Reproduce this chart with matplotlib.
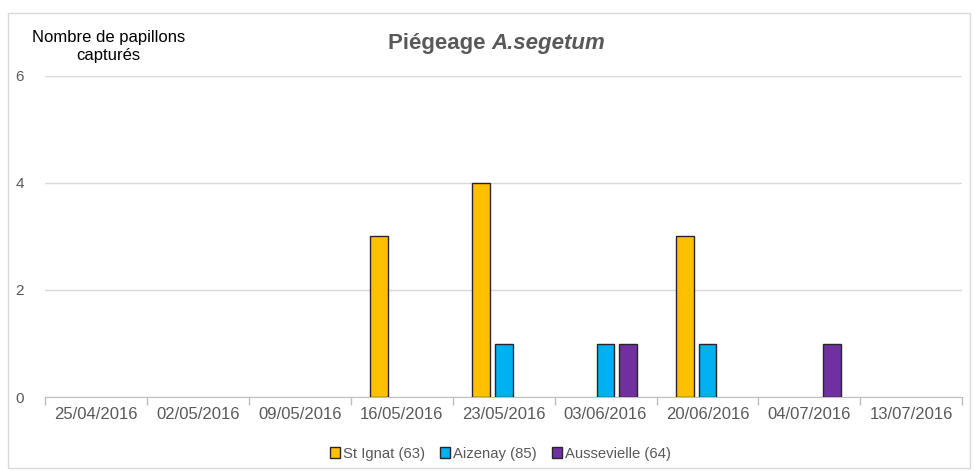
import numpy as np
import matplotlib
matplotlib.use("Agg")
import matplotlib.pyplot as plt
from matplotlib.patches import Rectangle

plt.rcParams['font.family'] = ['Liberation Sans', 'DejaVu Sans']

dates = ["25/04/2016", "02/05/2016", "09/05/2016", "16/05/2016", "23/05/2016",
         "03/06/2016", "20/06/2016", "04/07/2016", "13/07/2016"]
st_ignat = [0, 0, 0, 3, 4, 0, 3, 0, 0]
aizenay = [0, 0, 0, 0, 1, 1, 1, 0, 0]
aussevielle = [0, 0, 0, 0, 0, 1, 0, 1, 0]

series = [("St Ignat (63)", st_ignat, "#FFC000"),
          ("Aizenay (85)", aizenay, "#00B0F0"),
          ("Aussevielle (64)", aussevielle, "#7030A0")]

grey = "#595959"

fig = plt.figure(figsize=(9.75, 4.71), dpi=100)
ax = fig.add_axes([0.046, 0.157, 0.941, 0.682])

x = np.arange(len(dates))
step = 0.22
width = 0.175
for i, (name, vals, col) in enumerate(series):
  # les valeurs nulles ne sont pas dessinées (sinon un trait de bordure)
  v = np.array(vals, dtype=float)
  v[v == 0] = np.nan
  ax.bar(x + (i - 1) * step, v, width, color=col, edgecolor="#262626",
         linewidth=1.0, label=name, zorder=3)

ax.set_xlim(-0.5, len(dates) - 0.5)
ax.set_ylim(0, 6)
ax.set_yticks([0, 2, 4, 6])
ax.yaxis.grid(True, color="#D9D9D9", linewidth=1.0, zorder=0)
ax.tick_params(axis="y", length=0, labelsize=11, labelcolor=grey, pad=15)

ax.set_xticks(x)
ax.set_xticklabels(dates)
ax.tick_params(axis="x", which="major", length=0, labelsize=12,
               labelcolor=grey, pad=7)
ax.set_xticks(np.arange(-0.5, len(dates)), minor=True)
ax.tick_params(axis="x", which="minor", length=6, color="#BFBFBF", width=1)

for s in ["top", "right", "left"]:
  ax.spines[s].set_visible(False)
ax.spines["bottom"].set_color("#BFBFBF")

# titre en deux morceaux (normal + italique)
t1 = fig.text(0.398, 0.908, "Piégeage ", fontsize=16, fontweight="bold",
              color=grey, va="center", ha="left")
fig.canvas.draw()
bb = t1.get_window_extent()
fig.text(bb.x1 / fig.bbox.width, 0.908, "A.segetum", fontsize=16,
         fontweight="bold", fontstyle="italic", color=grey,
         va="center", ha="left")

fig.text(0.111, 0.901, "Nombre de papillons\ncapturés", fontsize=12,
         color="black", ha="center", va="center", linespacing=1.25)

leg = fig.legend(loc="center", bbox_to_anchor=(0.513, 0.037), ncol=3,
                 frameon=False, fontsize=10.7, handlelength=0.7,
                 handleheight=0.7, handletextpad=0.2, columnspacing=1.0)
for txt in leg.get_texts():
  txt.set_color(grey)

# cadre du graphique
fig.patches.append(Rectangle((0.008, 0.006), 0.987, 0.966,
                             transform=fig.transFigure, fill=False,
                             edgecolor="#D9D9D9", linewidth=1.0))

fig.savefig("out.png", dpi=100)
